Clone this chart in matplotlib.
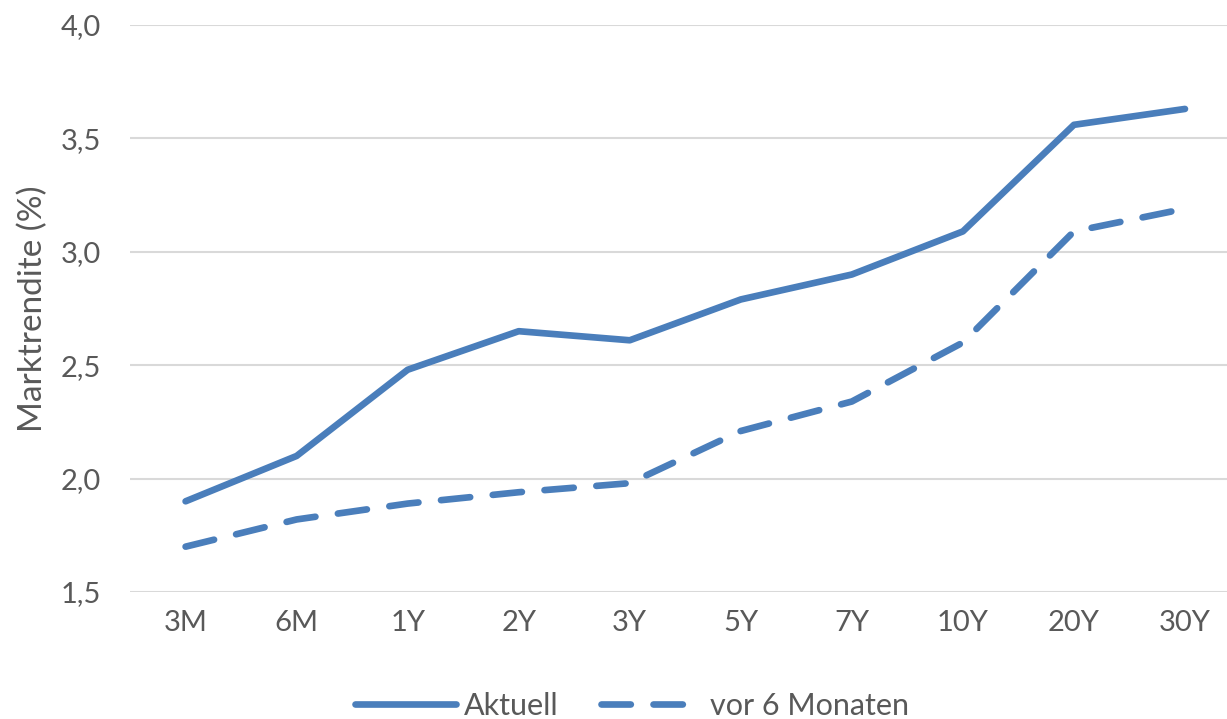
import numpy as np
import matplotlib.pyplot as plt

laufzeiten = ["3M", "6M", "1Y", "2Y", "3Y", "5Y", "7Y", "10Y", "20Y", "30Y"]
aktuell = [1.90, 2.10, 2.48, 2.65, 2.61, 2.79, 2.90, 3.09, 3.56, 3.63]
vor_6_monaten = [1.70, 1.82, 1.89, 1.94, 1.98, 2.21, 2.34, 2.60, 3.09, 3.19]
y_ticks = [1.5, 2.0, 2.5, 3.0, 3.5, 4.0]


def main():
    plt.rcParams['font.family'] = ['Lato', 'DejaVu Sans']
    grau = '#595959'
    blau = '#4A7EBB'

    fig = plt.figure(figsize=(12.27, 7.19), dpi=100)
    ax = fig.add_axes([0.106, 0.1766, 0.905, 0.7886])
    x = np.arange(len(laufzeiten))

    ax.plot(x, aktuell, color=blau, lw=4.8, solid_capstyle='round',
            solid_joinstyle='round', label='Aktuell')
    ax.plot(x, vor_6_monaten, color=blau, lw=4.8, dashes=(4.4, 3.4),
            dash_capstyle='round', label='vor 6 Monaten')

    ax.set_xlim(-0.5, len(laufzeiten) - 0.5)
    ax.set_ylim(1.5, 4.0)
    ax.set_xticks(x)
    ax.set_xticklabels(laufzeiten)
    ax.set_yticks(y_ticks)
    ax.set_yticklabels([f"{v:.1f}".replace('.', ',') for v in y_ticks])
    ax.tick_params(axis='both', length=0, labelsize=21, colors=grau)
    ax.tick_params(axis='x', pad=13)
    ax.tick_params(axis='y', pad=21)
    ax.grid(axis='y', color='#D9D9D9', lw=1.5)
    ax.set_axisbelow(True)
    for s in ax.spines.values():
        s.set_visible(False)
    ax.set_ylabel('Marktrendite (%)', fontsize=24, color=grau, labelpad=9)

    fig.legend(loc='center', bbox_to_anchor=(0.515, 0.018), ncol=2, frameon=False,
               fontsize=22, labelcolor=grau, handlelength=3.3, columnspacing=1.4,
               handletextpad=0.25)

    fig.savefig('out.png', dpi=100)


if __name__ == '__main__':
    main()
